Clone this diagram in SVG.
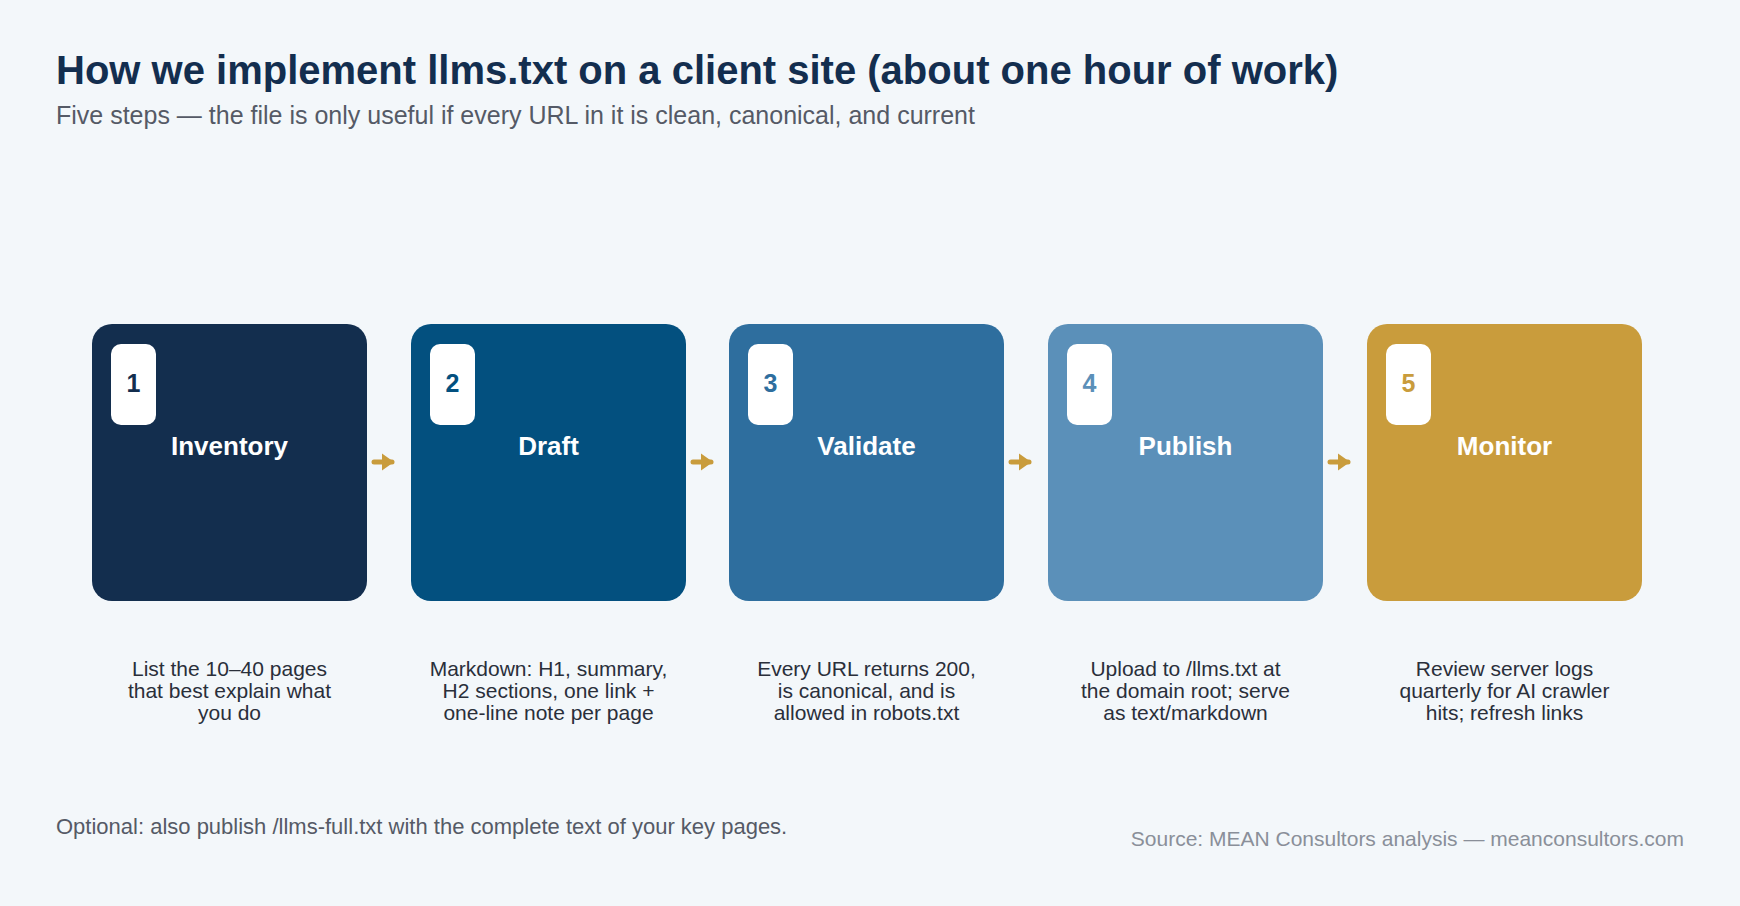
<svg xmlns="http://www.w3.org/2000/svg" width="1740" height="906" viewBox="0 0 1740 906">
<style>
.box{rx:20px}
.badge{fill:#fff}
.num{font:bold 25px "Liberation Sans",Arial,sans-serif;text-anchor:middle}
.ttl{font:bold 26px "Liberation Sans",Arial,sans-serif;fill:#fff;text-anchor:middle}
.desc{font:21px "Liberation Sans",Arial,sans-serif;fill:#2a2f3a;text-anchor:middle}
.arr{stroke:#c99c3c;stroke-width:5;stroke-linecap:round;fill:none}
</style>
<defs><marker id="ah" markerWidth="4" markerHeight="4" refX="2" refY="2" orient="auto" markerUnits="strokeWidth"><path d="M0,0.3 L2.4,2 L0,3.7 Z" fill="#c99c3c"/></marker></defs>
<rect width="1740" height="906" fill="#f3f7fa"/>
<text x="56" y="84" font-family="Liberation Sans,Arial,sans-serif" font-weight="bold" font-size="40" fill="#132e4f">How we implement llms.txt on a client site (about one hour of work)</text>
<text x="56" y="124" font-family="Liberation Sans,Arial,sans-serif" font-size="25" fill="#555a66">Five steps — the file is only useful if every URL in it is clean, canonical, and current</text>
<g id="connectors">
<path class="arr" d="M374,462 H392" marker-end="url(#ah)"/>
<path class="arr" d="M693,462 H711" marker-end="url(#ah)"/>
<path class="arr" d="M1011,462 H1029" marker-end="url(#ah)"/>
<path class="arr" d="M1330,462 H1348" marker-end="url(#ah)"/>
</g>
<g id="step1"><rect class="box" x="92" y="324" width="275" height="277" fill="#132e4e"/><rect class="badge" x="111" y="344" width="45" height="81" rx="10"/><text class="num" x="133.5" y="392" fill="#132e4e">1</text><text class="ttl" x="229.5" y="455">Inventory</text>
<text class="desc" x="229.5" y="676">List the 10–40 pages</text><text class="desc" x="229.5" y="698">that best explain what</text><text class="desc" x="229.5" y="720">you do</text></g>
<g id="step2"><rect class="box" x="411" y="324" width="275" height="277" fill="#03507f"/><rect class="badge" x="430" y="344" width="45" height="81" rx="10"/><text class="num" x="452.5" y="392" fill="#03507f">2</text><text class="ttl" x="548.5" y="455">Draft</text>
<text class="desc" x="548.5" y="676">Markdown: H1, summary,</text><text class="desc" x="548.5" y="698">H2 sections, one link +</text><text class="desc" x="548.5" y="720">one-line note per page</text></g>
<g id="step3"><rect class="box" x="729" y="324" width="275" height="277" fill="#2e6e9e"/><rect class="badge" x="748" y="344" width="45" height="81" rx="10"/><text class="num" x="770.5" y="392" fill="#2e6e9e">3</text><text class="ttl" x="866.5" y="455">Validate</text>
<text class="desc" x="866.5" y="676">Every URL returns 200,</text><text class="desc" x="866.5" y="698">is canonical, and is</text><text class="desc" x="866.5" y="720">allowed in robots.txt</text></g>
<g id="step4"><rect class="box" x="1048" y="324" width="275" height="277" fill="#5b90b9"/><rect class="badge" x="1067" y="344" width="45" height="81" rx="10"/><text class="num" x="1089.5" y="392" fill="#5b90b9">4</text><text class="ttl" x="1185.5" y="455">Publish</text>
<text class="desc" x="1185.5" y="676">Upload to /llms.txt at</text><text class="desc" x="1185.5" y="698">the domain root; serve</text><text class="desc" x="1185.5" y="720">as text/markdown</text></g>
<g id="step5"><rect class="box" x="1367" y="324" width="275" height="277" fill="#c99c3c"/><rect class="badge" x="1386" y="344" width="45" height="81" rx="10"/><text class="num" x="1408.5" y="392" fill="#c99c3c">5</text><text class="ttl" x="1504.5" y="455">Monitor</text>
<text class="desc" x="1504.5" y="676">Review server logs</text><text class="desc" x="1504.5" y="698">quarterly for AI crawler</text><text class="desc" x="1504.5" y="720">hits; refresh links</text></g>
<text x="56" y="834" font-family="Liberation Sans,Arial,sans-serif" font-size="22" fill="#555a66">Optional: also publish /llms-full.txt with the complete text of your key pages.</text>
<text x="1684" y="846" text-anchor="end" font-family="Liberation Sans,Arial,sans-serif" font-size="21" fill="#8a8f99">Source: MEAN Consultors analysis — meanconsultors.com</text>
</svg>
